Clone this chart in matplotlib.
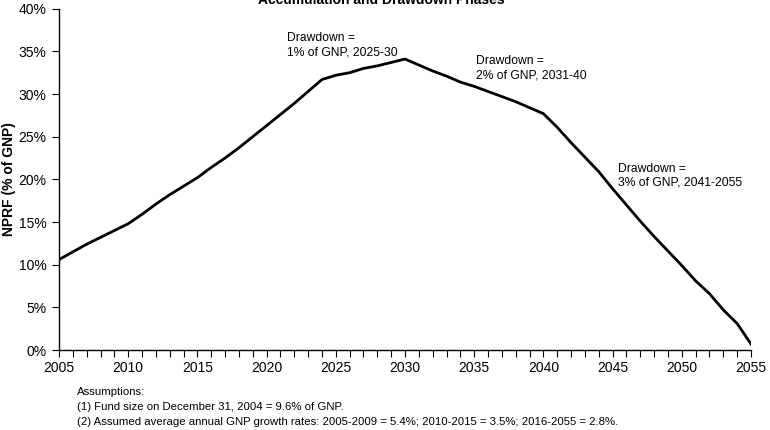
import matplotlib
matplotlib.use("Agg")
import matplotlib.pyplot as plt
from matplotlib.ticker import FuncFormatter, MultipleLocator

plt.rcParams['font.family'] = ['Liberation Sans', 'DejaVu Sans']

years = list(range(2005, 2056))
nprf = [10.6, 11.5, 12.4, 13.2, 14.0, 14.8, 15.9, 17.1, 18.2, 19.2,
        20.2, 21.4, 22.5, 23.7, 25.0, 26.3, 27.6, 28.9, 30.3, 31.7,
        32.2, 32.5, 33.0, 33.3, 33.7, 34.1, 33.4, 32.7, 32.1, 31.4,
        30.9, 30.3, 29.7, 29.1, 28.4, 27.7, 26.1, 24.3, 22.6, 20.9,
        18.9, 17.0, 15.1, 13.3, 11.6, 9.9, 8.1, 6.6, 4.7, 3.1, 0.7]

title = "Accumulation and Drawdown Phases"
ylabel = "NPRF (% of GNP)"
notes = ["Assumptions:",
         "(1) Fund size on December 31, 2004 = 9.6% of GNP.",
         "(2) Assumed average annual GNP growth rates: 2005-2009 = 5.4%; 2010-2015 = 3.5%; 2016-2055 = 2.8%.",
         "(3) Fund earns 4% real return per year on its assets (after expenses)."]
annots = [(2021.5, 37.25, "Drawdown =\n1% of GNP, 2025-30"),
          (2035.1, 34.55, "Drawdown =\n2% of GNP, 2031-40"),
          (2045.4, 21.95, "Drawdown =\n3% of GNP, 2041-2055")]

fig = plt.figure(figsize=(7.7, 4.3), dpi=100)
ax = fig.add_axes([59/770, 1-350/430, (751-59)/770, (350-8.7)/430])
ax.plot(years, nprf, color='black', lw=2.0, solid_joinstyle='round')
ax.set_xlim(2005, 2055)
ax.set_ylim(0, 40)
ax.xaxis.set_major_locator(MultipleLocator(5))
ax.xaxis.set_minor_locator(MultipleLocator(1))
ax.yaxis.set_major_locator(MultipleLocator(5))
ax.yaxis.set_major_formatter(FuncFormatter(lambda v, p: f"{v:.0f}%"))
for s in ['top', 'right']:
    ax.spines[s].set_visible(False)
for s in ['left', 'bottom']:
    ax.spines[s].set_linewidth(1.0)
ax.tick_params(axis='x', which='both', direction='out', length=5, width=0.8, labelsize=10, pad=3)
ax.tick_params(axis='y', direction='out', length=5, width=0.8, labelsize=10, pad=4)

fig.text(9/770, 1-179/430, ylabel, rotation=90, ha='center', va='center',
         fontsize=10, fontweight='bold')

for x, y, t in annots:
    ax.text(x, y, t, fontsize=8.7, ha='left', va='top', linespacing=1.25)

fig.text(381/770, 1-4/430, title, ha='center', va='baseline', fontsize=10, fontweight='bold')

for i, line in enumerate(notes):
    fig.text(77/770, 1-(395+15*i)/430, line, ha='left', va='baseline', fontsize=8.2)

fig.savefig("out.png", dpi=100)
